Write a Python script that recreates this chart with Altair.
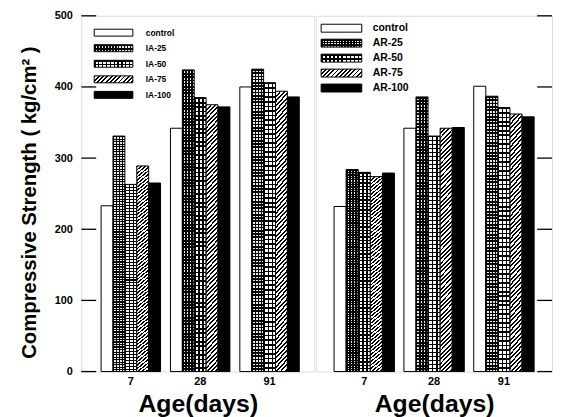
import altair as alt
import pandas as pd

# ---------------- data ----------------
ages = ["7", "28", "91"]

ia_series = ["control", "IA-25", "IA-50", "IA-75", "IA-100"]
ia_control = [233, 342, 400]
ia_25 = [331, 424, 425]
ia_50 = [263, 385, 406]
ia_75 = [289, 375, 394]
ia_100 = [265, 372, 386]

ar_series = ["control", "AR-25", "AR-50", "AR-75", "AR-100"]
ar_control = [232, 342, 401]
ar_25 = [284, 386, 387]
ar_50 = [280, 331, 371]
ar_75 = [274, 342, 362]
ar_100 = [279, 343, 358]

y_ticks = [0, 100, 200, 300, 400, 500]

# ---------------- style helpers (patterns via gradients) ----------------
BLACK = "#000000"
WHITE = "#ffffff"
CLEAR = "rgba(0,0,0,0)"


def stripe_stops(n, duty, c_on, c_off):
    stops = []
    span = 1.0 / n
    for i in range(n):
        a = i * span
        b = a + duty * span
        c = a + span
        for off, col in ((a, c_on), (b, c_on), (b, c_off), (c, c_off)):
            stops.append(alt.GradientStop(offset=round(min(off, 1.0), 5), color=col))
    return stops


def grad(stops, x2, y2):
    return alt.LinearGradient(gradient="linear", stops=stops, x1=0, y1=0, x2=x2, y2=y2)


def pattern(kind, w, h):
    """Return list of fills (base + optional overlay) for a pattern on a w x h box."""
    if kind == "plain":
        return [WHITE]
    if kind == "solid":
        return [BLACK]
    if kind == "dots":
        nx = max(2, round(w / 3.0))
        ny = max(2, round(h / 3.0))
        return [grad(stripe_stops(nx, 0.5, BLACK, "#e8e8e8"), 1, 0),
                grad(stripe_stops(ny, 0.5, BLACK, CLEAR), 0, 1)]
    if kind == "grid":
        nx = max(2, round(w / 4.0))
        ny = max(2, round(h / 4.0))
        return [grad(stripe_stops(nx, 0.35, BLACK, WHITE), 1, 0),
                grad(stripe_stops(ny, 0.35, BLACK, CLEAR), 0, 1)]
    if kind == "hatch":
        k = 1.0 + min(w, h) / max(w, h)
        if h >= w:
            x2, y2 = k * w / h, k
            n = max(2, round(k * h / 4.2))
        else:
            x2, y2 = k, k * h / w
            n = max(2, round(k * w / 4.2))
        return [grad(stripe_stops(n, 0.45, BLACK, WHITE), x2, y2)]
    return [WHITE]


kinds = ["plain", "dots", "grid", "hatch", "solid"]

LABEL_FONT = "Liberation Sans"


def make_panel(series, values, width, pin, pout, align, left_axis, leg):
    rows = []
    for s, vals in zip(series, values):
        for a, v in zip(ages, vals):
            rows.append({"age": a, "series": s, "value": v})
    df = pd.DataFrame(rows)

    x_axis = alt.Axis(title="Age(days)", labelAngle=0, ticks=False, domain=False,
                      labelFont=LABEL_FONT, labelFontSize=11, labelFontWeight="bold",
                      labelColor=BLACK, labelPadding=4,
                      titleFont=LABEL_FONT, titleFontSize=25, titleFontWeight="bold",
                      titleColor=BLACK, titlePadding=5)
    x = alt.X("age:N", sort=ages,
              scale=alt.Scale(domain=ages, paddingInner=pin, paddingOuter=pout, align=align),
              axis=x_axis)
    xo = alt.XOffset("series:N", sort=series,
                     scale=alt.Scale(domain=series, paddingInner=0, paddingOuter=0))
    if left_axis:
        y_axis = alt.Axis(title="Compressive Strength ( kg/cm² )", values=y_ticks,
                          ticks=False, domain=False, grid=False,
                          labelFont=LABEL_FONT, labelFontSize=11, labelFontWeight="bold",
                          labelColor=BLACK, labelPadding=9,
                          titleFont=LABEL_FONT, titleFontSize=20.5, titleFontWeight="bold",
                          titleColor=BLACK, titlePadding=15, titleY=188)
    else:
        y_axis = None
    y = alt.Y("value:Q", scale=alt.Scale(domain=[0, 500], nice=False, zero=True), axis=y_axis)

    layers = []
    for s, kind, vals in zip(series, kinds, values):
        avg_h = sum(vals) / len(vals) * 359.0 / 500.0
        fills = pattern(kind, 12, avg_h)
        sub = alt.Chart(df).transform_filter(alt.datum.series == s)
        for j, f in enumerate(fills):
            layers.append(sub.mark_bar(fill=f, stroke=BLACK, strokeWidth=1,
                                       strokeOpacity=1 if j == len(fills) - 1 else 0)
                          .encode(x=x, xOffset=xo, y=y))

    # inward ticks
    tdf = pd.DataFrame({"value": y_ticks})
    tx0, tx1 = (0, 15) if left_axis else (width - 15, width)
    layers.append(alt.Chart(tdf).mark_rule(color=BLACK, strokeWidth=1.3)
                  .encode(y=y, x=alt.value(tx0), x2=alt.value(tx1)))

    # hand-drawn legend with the same patterns
    sx0, sx1, sh, ty0, dy, tx, fs = leg
    for i, (s, kind) in enumerate(zip(series, kinds)):
        cy = ty0 + i * dy
        ldf = pd.DataFrame({"label": [s]})
        fills = pattern(kind, sx1 - sx0, sh)
        for j, f in enumerate(fills):
            layers.append(alt.Chart(ldf).mark_rect(fill=f, stroke=BLACK, strokeWidth=1,
                                                    strokeOpacity=1 if j == len(fills) - 1 else 0)
                          .encode(x=alt.value(sx0), x2=alt.value(sx1),
                                  y=alt.value(cy - sh / 2), y2=alt.value(cy + sh / 2)))
        layers.append(alt.Chart(ldf).mark_text(align="left", baseline="middle", font=LABEL_FONT,
                                               fontSize=fs, fontWeight="bold", color=BLACK)
                      .encode(text="label:N", x=alt.value(tx), y=alt.value(cy)))

    return alt.layer(*layers).properties(width=width, height=359)


left = make_panel(ia_series, [ia_control, ia_25, ia_50, ia_75, ia_100],
                  235, 0.143, 0.25, 0.57, True,
                  (13, 52, 7, 17, 15.7, 65, 8.5))
right = make_panel(ar_series, [ar_control, ar_25, ar_50, ar_75, ar_100],
                   238, 0.135, 0.256, 0.5, False,
                   (5, 46, 8, 12.5, 15.1, 57, 10.5))

chart = (alt.hconcat(left, right, spacing=0)
         .resolve_scale(xOffset="independent")
         .properties(padding={"left": 11, "top": -1, "right": 0, "bottom": 0})
         .configure_view(stroke=BLACK, strokeWidth=1.5)
         .configure(background="white"))

chart.save("out.html", embed_options={"renderer": "svg", "actions": False})
